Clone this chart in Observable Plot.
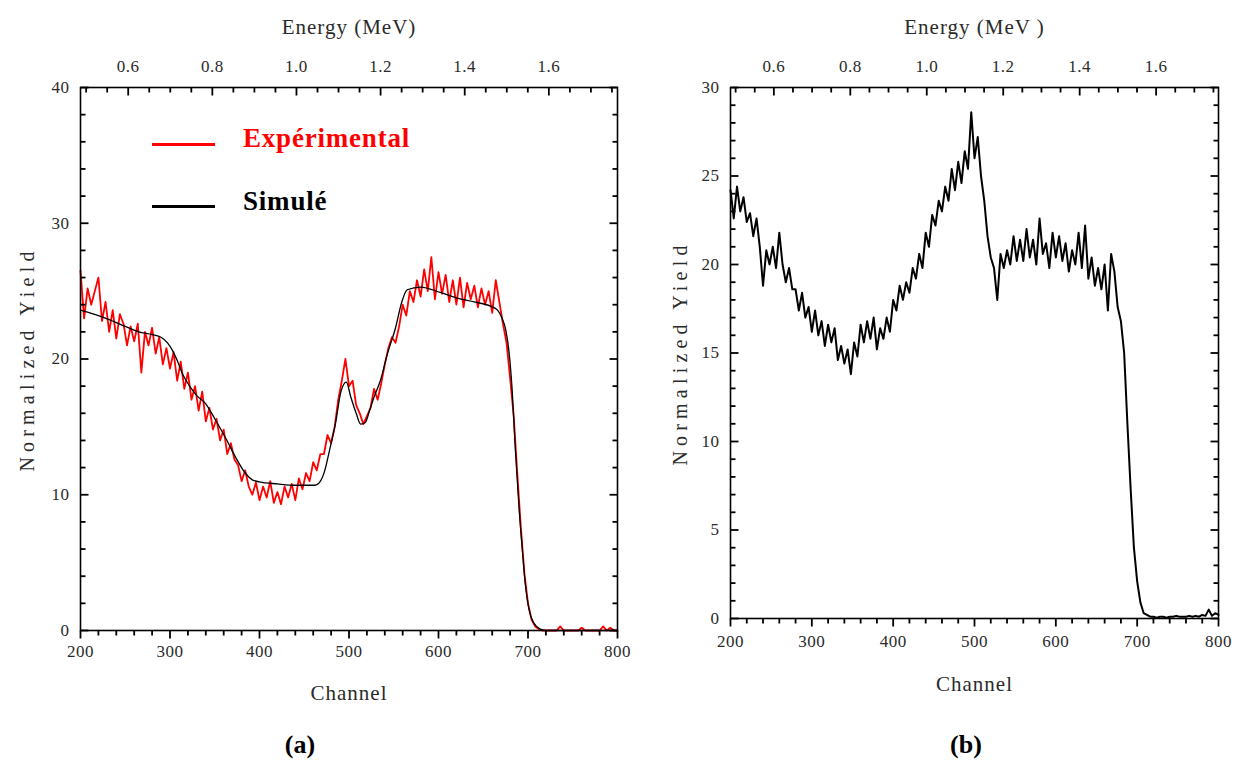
<!DOCTYPE html>
<html><head><meta charset="utf-8">
<script src="https://cdn.jsdelivr.net/npm/d3@7"></script>
<script src="https://cdn.jsdelivr.net/npm/@observablehq/plot@0.6"></script>
<style>
html,body{margin:0;padding:0;background:#fff;}
body{width:1248px;height:769px;position:relative;overflow:hidden;font-family:"Liberation Serif","Times New Roman",serif;}
.panel{position:absolute;top:0;}
.panel svg{overflow:visible;background:#fff;}
.cap{position:absolute;top:730px;font-weight:bold;font-size:26px;width:80px;text-align:center;color:#000;}
.leg{position:absolute;font-weight:bold;font-size:27px;letter-spacing:0.8px;line-height:30px;}
.legline{position:absolute;height:3px;width:63px;}
</style></head><body>
<div id="pa" class="panel" style="left:0px"></div>
<div id="pb" class="panel" style="left:650px"></div>
<div class="legline" style="left:152px;top:143px;background:#ff0000"></div>
<div class="leg" style="left:243px;top:123px;color:#ff0000">Expérimental</div>
<div class="legline" style="left:152px;top:205px;background:#000"></div>
<div class="leg" style="left:243px;top:186px;color:#000">Simulé</div>
<div class="cap" style="left:260px">(a)</div>
<div class="cap" style="left:926px">(b)</div>
<script>
// ---- axis tick values ----
const channelTicks = [200, 300, 400, 500, 600, 700, 800];
const energyTicks = [0.6, 0.8, 1.0, 1.2, 1.4, 1.6];
const yTicksA = [0, 10, 20, 30, 40];
const yTicksB = [0, 5, 10, 15, 20, 25, 30];
// energy calibration (MeV <-> channel)
const E_REF = 0.6, CH_REF = 253.3, CH_PER_MEV = 470;

// ---- series: spectra sampled every 4 channels from channel 200 ----
const CH_START = 200, CH_STEP = 4;
const experimentalA = [
  26.5, 23.0, 25.2, 24.0, 25.0, 26.0, 22.8, 24.2, 22.0, 23.6,
  21.5, 23.3, 22.6, 21.0, 22.4, 21.3, 22.6, 19.0, 22.0, 21.0,
  22.3, 20.4, 21.6, 19.6, 20.8, 19.3, 20.5, 18.4, 19.8, 17.8,
  19.0, 17.0, 18.0, 16.2, 17.6, 15.4, 16.4, 14.8, 15.6, 14.0,
  14.8, 13.0, 13.8, 12.6, 12.2, 11.0, 11.8, 10.6, 10.0, 10.9,
  9.6, 10.6, 9.8, 11.0, 9.4, 10.2, 9.3, 10.6, 9.8, 10.8,
  9.6, 11.2, 10.4, 11.6, 11.0, 12.4, 11.8, 13.0, 13.0, 14.4,
  13.8, 15.0, 17.0, 18.4, 20.0, 18.0, 18.4, 16.6, 16.0, 15.2,
  15.8, 16.4, 17.8, 17.0, 18.2, 19.6, 20.8, 21.6, 21.2, 22.4,
  24.0, 23.2, 25.0, 24.2, 25.8, 24.6, 26.6, 25.0, 27.5, 24.4,
  26.4, 24.8, 26.2, 24.2, 25.8, 24.0, 26.0, 23.8, 25.6, 24.4,
  25.4, 23.8, 25.2, 24.0, 25.0, 23.4, 25.8, 24.2, 22.6, 21.2,
  18.6, 15.8, 11.6, 7.6, 4.2, 2.0, 0.8, 0.3, 0.1, 0,
  0, 0, 0, 0, 0.3, 0, 0, 0, 0, 0,
  0.2, 0, 0, 0, 0, 0, 0.3, 0, 0.2, 0,
  0
];
const spectrumB = [
  24.2, 22.6, 24.4, 23.0, 23.8, 22.4, 22.9, 21.6, 22.6, 21.0,
  18.8, 20.8, 20.0, 21.0, 19.8, 21.8, 20.0, 19.0, 19.8, 18.6,
  18.6, 17.4, 18.4, 17.0, 17.6, 16.2, 17.4, 16.0, 16.8, 15.4,
  16.6, 15.6, 16.4, 14.6, 15.4, 14.4, 15.2, 13.8, 15.6, 14.8,
  16.6, 15.6, 16.8, 15.8, 17.0, 15.2, 16.4, 15.8, 17.0, 16.2,
  18.0, 17.4, 18.8, 18.0, 19.0, 18.4, 19.8, 19.2, 20.6, 19.8,
  21.8, 21.0, 22.8, 22.2, 23.6, 23.0, 24.4, 23.6, 25.4, 24.2,
  25.8, 24.6, 26.4, 25.4, 28.6, 26.0, 27.2, 25.0, 23.6, 21.6,
  20.4, 19.8, 18.0, 20.6, 19.8, 20.8, 20.0, 21.6, 20.2, 21.4,
  20.2, 22.0, 20.4, 21.4, 20.0, 22.6, 20.6, 21.2, 19.8, 21.8,
  20.4, 21.6, 20.2, 21.2, 19.6, 20.8, 20.0, 21.8, 19.8, 22.2,
  19.2, 20.4, 18.8, 19.8, 18.6, 20.0, 17.4, 20.6, 19.6, 17.6,
  16.8, 15.0, 11.0, 7.3, 4.0, 2.1, 0.9, 0.3, 0.2, 0.1,
  0.1, 0.05, 0.1, 0.1, 0.05, 0.1, 0.1, 0.15, 0.1, 0.1,
  0.1, 0.15, 0.1, 0.15, 0.1, 0.2, 0.15, 0.5, 0.15, 0.3,
  0.2
];
// simulated (smooth) curve of panel (a)
const simulatedChannels = [200, 215, 232, 250, 265, 280, 290, 297, 303, 308, 314, 322, 330, 340, 350, 362, 373, 384, 392, 400,
  420, 440, 462, 468, 473, 478, 485, 491, 497, 502, 508, 513, 518, 523, 528, 535, 543, 552, 559, 565,
  580, 602, 620, 640, 658, 666, 671, 675, 679, 682, 686, 690, 694, 697, 701, 706, 714, 720, 800];
const simulatedYield = [23.6, 23.3, 22.9, 22.4, 22.0, 21.8, 21.6, 21.2, 20.6, 19.9, 18.9, 18.0, 17.3, 16.7, 15.6, 14.2, 12.8, 11.6, 11.1, 10.95,
  10.8, 10.7, 10.7, 11.0, 11.8, 13.2, 15.3, 17.6, 18.3, 17.2, 16.0, 15.2, 15.3, 16.2, 17.2, 18.4, 20.4, 22.3, 24.2, 25.1,
  25.3, 24.9, 24.5, 24.2, 23.9, 23.6, 23.0, 22.2, 20.4, 18.0, 13.2, 9.0, 5.7, 3.4, 1.6, 0.6, 0.1, 0, 0];

// ---- build tables ----
const toRows = arr => arr.map((v, i) => ({ch: CH_START + i * CH_STEP, y: v}));
const expRows = toRows(experimentalA);
const bRows = toRows(spectrumB);
const simRows = simulatedChannels.map((c, i) => ({ch: c, y: simulatedYield[i]}));
const chOfE = e => CH_REF + (e - E_REF) * CH_PER_MEV;

const FONT = '"Liberation Serif","Times New Roman",serif';
const INK = "#2a2a2a";

function panel({yMax, yMajor, yMinorStep, lines, width, height, mt, mr, mb, ml, energyTitle, bottomDy, titleDy, yTitleDx}) {
  const fw = width - ml - mr, fh = height - mt - mb;
  const near = (a, b) => Math.abs(a - b) < 1e-6;
  const xMinor = d3.range(200, 801, 20).filter(d => !channelTicks.some(t => near(t, d)));
  const yMinor = d3.range(0, yMax + 1e-9, yMinorStep).filter(d => !yMajor.some(t => near(t, d)));
  const eMinor = d3.range(10, 36).map(k => k * 0.05).filter(e => !energyTicks.some(t => near(t, e)));
  // tick lengths converted from pixels to data units
  const dy = len => yMax * len / fh, dx = len => 600 * len / fw;
  const ts = {stroke: "black", strokeWidth: 1.8};
  const bottomTicks = (data, len) => Plot.link(data, {x1: d => d, x2: d => d, y1: 0, y2: -dy(len), ...ts});
  const topTicks = (data, len) => Plot.link(data, {x1: chOfE, x2: chOfE, y1: yMax, y2: yMax - dy(len), ...ts});
  const leftTicks = (data, len) => Plot.link(data, {x1: 200, x2: 200 + dx(len), y1: d => d, y2: d => d, ...ts});
  const rightTicks = (data, len) => Plot.link(data, {x1: 800, x2: 800 - dx(len), y1: d => d, y2: d => d, ...ts});
  return Plot.plot({
    width, height, marginTop: mt, marginRight: mr, marginBottom: mb, marginLeft: ml,
    x: {domain: [200, 800], axis: null},
    y: {domain: [0, yMax], axis: null},
    style: {fontFamily: FONT, fontSize: "17px"},
    marks: [
      ...lines,
      Plot.frame({stroke: "black", strokeWidth: 1.6}),
      bottomTicks(channelTicks, 8), bottomTicks(xMinor, 5),
      topTicks(energyTicks, 8), topTicks(eMinor, 5),
      leftTicks(yMajor, 8), leftTicks(yMinor, 5),
      rightTicks(yMajor, 8), rightTicks(yMinor, 5),
      // tick labels
      Plot.text(channelTicks, {x: d => d, frameAnchor: "bottom", dy: bottomDy, lineAnchor: "middle", text: d => String(d), fill: INK}),
      Plot.text(energyTicks, {x: chOfE, frameAnchor: "top", dy: -21, lineAnchor: "middle", text: e => e.toFixed(1), fill: INK}),
      Plot.text(yMajor, {y: d => d, frameAnchor: "left", dx: -11, textAnchor: "end", lineAnchor: "middle", text: d => String(d), fill: INK}),
      // axis titles
      Plot.text([energyTitle], {frameAnchor: "top", dy: -60, lineAnchor: "middle", textAnchor: "middle", fontSize: 21, fill: INK}),
      Plot.text(["Channel"], {frameAnchor: "bottom", dy: titleDy, lineAnchor: "middle", textAnchor: "middle", fontSize: 21, fill: INK}),
      Plot.text(["Normalized Yield"], {frameAnchor: "left", dx: yTitleDx, rotate: -90, lineAnchor: "middle", textAnchor: "middle", fontSize: 20, fill: INK})
    ]
  });
}

const plotA = panel({
  yMax: 40, yMajor: yTicksA, yMinorStep: 2, width: 640, height: 700, mt: 87, mr: 23, mb: 70, ml: 80,
  energyTitle: "Energy (MeV)", bottomDy: 21, titleDy: 63, yTitleDx: -53,
  lines: [
    Plot.line(expRows, {x: "ch", y: "y", stroke: "#ff0000", strokeWidth: 1.8}),
    Plot.line(simRows, {x: "ch", y: "y", stroke: "black", strokeWidth: 1.3, curve: "monotone-x"})
  ]
});
const plotB = panel({
  yMax: 30, yMajor: yTicksB, yMinorStep: 1, width: 590, height: 700, mt: 87, mr: 22, mb: 82, ml: 80,
  energyTitle: "Energy (MeV )", bottomDy: 23, titleDy: 66, yTitleDx: -50,
  lines: [
    Plot.line(bRows, {x: "ch", y: "y", stroke: "black", strokeWidth: 2})
  ]
});
for (const svg of [plotA, plotB]) {
  d3.select(svg).selectAll("text").each(function() {
    const t = this.textContent;
    if (t === "Normalized Yield") this.setAttribute("letter-spacing", "5.2");
    else if (t.startsWith("Energy") || t === "Channel") this.setAttribute("letter-spacing", "1");
    else this.setAttribute("letter-spacing", "0.5");
  });
}
document.getElementById("pa").appendChild(plotA);
document.getElementById("pb").appendChild(plotB);
</script>
</body></html>
